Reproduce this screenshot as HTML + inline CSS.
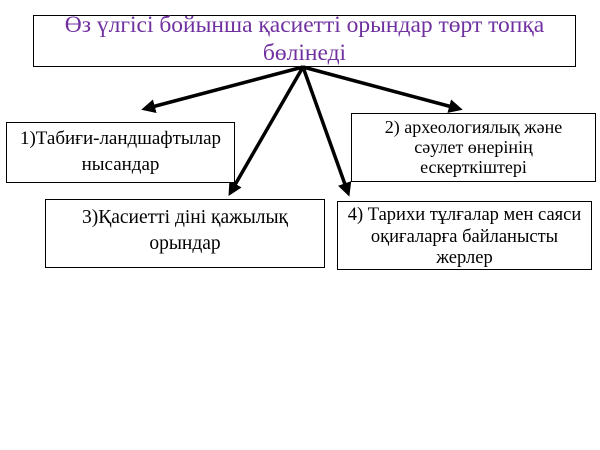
<!DOCTYPE html>
<html><head><meta charset="utf-8"><style>
body{margin:0;width:600px;height:450px;background:#fff;position:relative;overflow:hidden;font-family:"Liberation Serif",serif;}
.b{position:absolute;border:1.5px solid #000;box-sizing:border-box;text-align:center;background:#fff;color:#000;}
</style></head><body>
<div class="b" style="left:33px;top:15px;width:543px;height:52px;color:#7030a0;font-size:23.5px;line-height:28px;"><div style="position:relative;top:-5px">Өз үлгісі бойынша қасиетті орындар төрт топқа бөлінеді</div></div>
<svg width="600" height="450" style="position:absolute;left:0;top:0">
<defs><marker id="a" markerWidth="4" markerHeight="4" refX="2" refY="2" orient="auto" markerUnits="strokeWidth"><path d="M0,0 L4,2 L0,4 z" fill="#000"/></marker></defs>
<g stroke="#000" stroke-width="3.5" fill="none" marker-end="url(#a)">
<line x1="303" y1="67" x2="148" y2="108"/>
<line x1="303" y1="67" x2="456" y2="108"/>
<line x1="303" y1="67" x2="232" y2="190"/>
<line x1="303" y1="67" x2="347" y2="190"/>
</g></svg>
<div class="b" style="left:6px;top:122px;width:229px;height:61px;padding-top:3px;font-size:19px;line-height:26px;">1)Табиғи-ландшафтылар нысандар</div>
<div class="b" style="left:351px;top:113px;width:245px;height:69px;padding:3px 20px 0;font-size:18px;line-height:20px;">2) археологиялық және сәулет өнерінің ескерткіштері</div>
<div class="b" style="left:45px;top:199px;width:280px;height:69px;padding:5px 20px 0 20px;font-size:19.5px;line-height:26px;">3)Қасиетті діні қажылық орындар</div>
<div class="b" style="left:337px;top:201px;width:255px;height:69px;padding:3px 2px 0;font-size:18.5px;line-height:21.5px;">4) Тарихи тұлғалар мен саяси<br>оқиғаларға байланысты<br>жерлер</div>
</body></html>
